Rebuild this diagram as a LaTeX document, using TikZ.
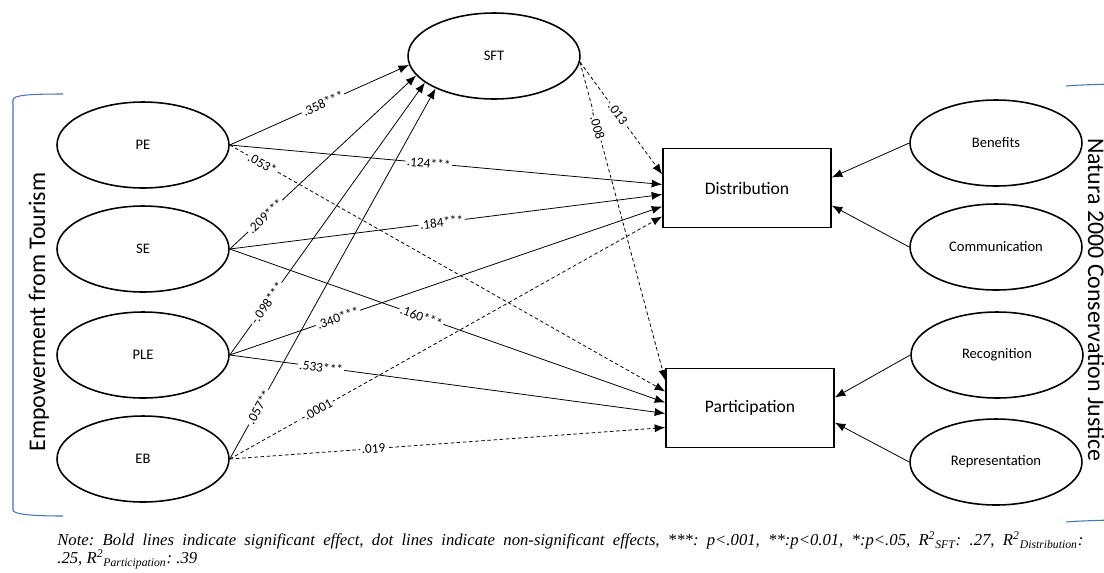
\documentclass[tikz,border=0pt]{standalone}
\usepackage{fontspec}
\setmainfont{Carlito}
\newfontfamily\notefont{Liberation Serif}
\usetikzlibrary{shapes.geometric, arrows.meta}
\definecolor{bracketblue}{RGB}{68,114,196}

\begin{document}
\begin{tikzpicture}[>={Latex[length=6pt,width=4.6pt]}, x=0.02cm, y=-0.02cm,
    latent/.style={draw, ellipse, line width=0.9pt, minimum width=3.44cm, minimum height=1.72cm, font=\fontsize{8.3}{10}\selectfont},
    construct/.style={draw, rectangle, line width=0.9pt, minimum width=3.36cm, minimum height=1.58cm, font=\fontsize{10}{12}\selectfont},
    sig/.style={->, line width=0.45pt},
    nonsig/.style={->, line width=0.45pt, dash pattern=on 2pt off 1.5pt},
    coef/.style={sloped, fill=white, inner sep=0.8pt, font=\fontsize{7.6}{9}\selectfont},
    bracket/.style={draw=bracketblue, line width=0.6pt}]
    \useasboundingbox (0,0) rectangle (1104,572);

    % 1. Constructs
    \node[latent] (sft) at (494,56) {SFT};
    \node[latent] (pe) at (143,145) {PE};
    \node[latent] (se) at (143,249) {SE};
    \node[latent] (ple) at (143,355) {PLE};
    \node[latent] (eb) at (143,459) {EB};
    \node[construct] (dist) at (747,188) {Distribution};
    \node[construct] (part) at (750,408) {Participation};
    \node[latent] (ben) at (996,143) {Benefits};
    \node[latent] (com) at (996,247) {Communication};
    \node[latent] (rec) at (997,355) {Recognition};
    \node[latent] (rep) at (996,462) {Representation};

    % 2. Paths to SFT
    \draw[sig] (pe.east) -- node[coef, pos=0.52] {.358***} (sft.186);
    \draw[sig] (se.east) -- node[coef, pos=0.19] {.209***} (sft.194);
    \draw[sig] (ple.east) -- node[coef, pos=0.19] {-.098***} (sft.201);
    \draw[sig] (eb.east) -- node[coef, pos=0.14] {.057**} (sft.209);

    % 3. Paths to Distribution
    \draw[sig] (pe.east) -- node[coef, pos=0.46] {.124***} ([yshift=2pt]dist.west);
    \draw[sig] (se.east) -- node[coef, pos=0.49] {.184***} ([yshift=-3.7pt]dist.west);
    \draw[sig] (ple.east) -- node[coef, pos=0.25] {.340***} ([yshift=-10.5pt]dist.west);
    \draw[nonsig] (eb.east) -- node[coef, pos=0.2] {-.0001} ([yshift=-16.2pt]dist.west);
    \draw[nonsig] (sft.356) -- node[coef, pos=0.46] {.013} ([yshift=7.7pt]dist.west);

    % 4. Paths to Participation
    \draw[nonsig] (pe.east) -- node[coef, pos=0.075] {.053*} ([yshift=9.4pt]part.west);
    \draw[sig] (se.east) -- node[coef, pos=0.44] {.160***} ([yshift=3.1pt]part.west);
    \draw[sig] (ple.east) -- node[coef, pos=0.21] {.533***} ([yshift=-3.1pt]part.west);
    \draw[nonsig] (eb.east) -- node[coef, pos=0.33] {.019} ([yshift=-11.1pt]part.west);
    \draw[nonsig] (sft.356) -- node[coef, pos=0.2] {-.008} ([yshift=15.7pt]part.west);

    % 5. Justice dimensions
    \draw[sig] (ben.west) -- ([yshift=6pt]dist.east);
    \draw[sig] (com.west) -- ([yshift=-10pt]dist.east);
    \draw[sig] (rec.west) -- ([yshift=6pt]part.east);
    \draw[sig] (rep.west) -- ([yshift=-8.3pt]part.east);

    % 6. Brackets and group titles
    \draw[bracket] (63,94) .. controls (30,94) and (13,95) .. (13,100) -- (13,510)
        .. controls (13,514) and (30,516) .. (63,516);
    \draw[bracket] (1066,86) .. controls (1080,85) .. (1110,84);
    \draw[bracket] (1066,522) .. controls (1080,521) .. (1110,520);
    \node[rotate=90, anchor=base, font=\fontsize{13.6}{16}\selectfont] (empw) at (45,312) {Empowerment from Tourism};
    \node[rotate=-90, anchor=base, font=\fontsize{13.6}{16}\selectfont] (natura) at (1088,300) {Natura 2000 Conservation Justice};

    % 7. Note
    \node[anchor=north west, text width=584pt, align=justify, inner sep=0pt,
        font=\notefont\itshape\fontsize{9.5}{10.3}\selectfont\frenchspacing] (note) at (57,531)
        {Note: Bold lines indicate significant effect, dot lines indicate non-significant effects, ***: p<.001, **:p<0.01, *:p<.05, R\textsuperscript{2}\textsubscript{SFT}: .27, R\textsuperscript{2}\textsubscript{Distribution}:\linebreak .25, R\textsuperscript{2}\textsubscript{Participation}: .39};
\end{tikzpicture}
\end{document}
